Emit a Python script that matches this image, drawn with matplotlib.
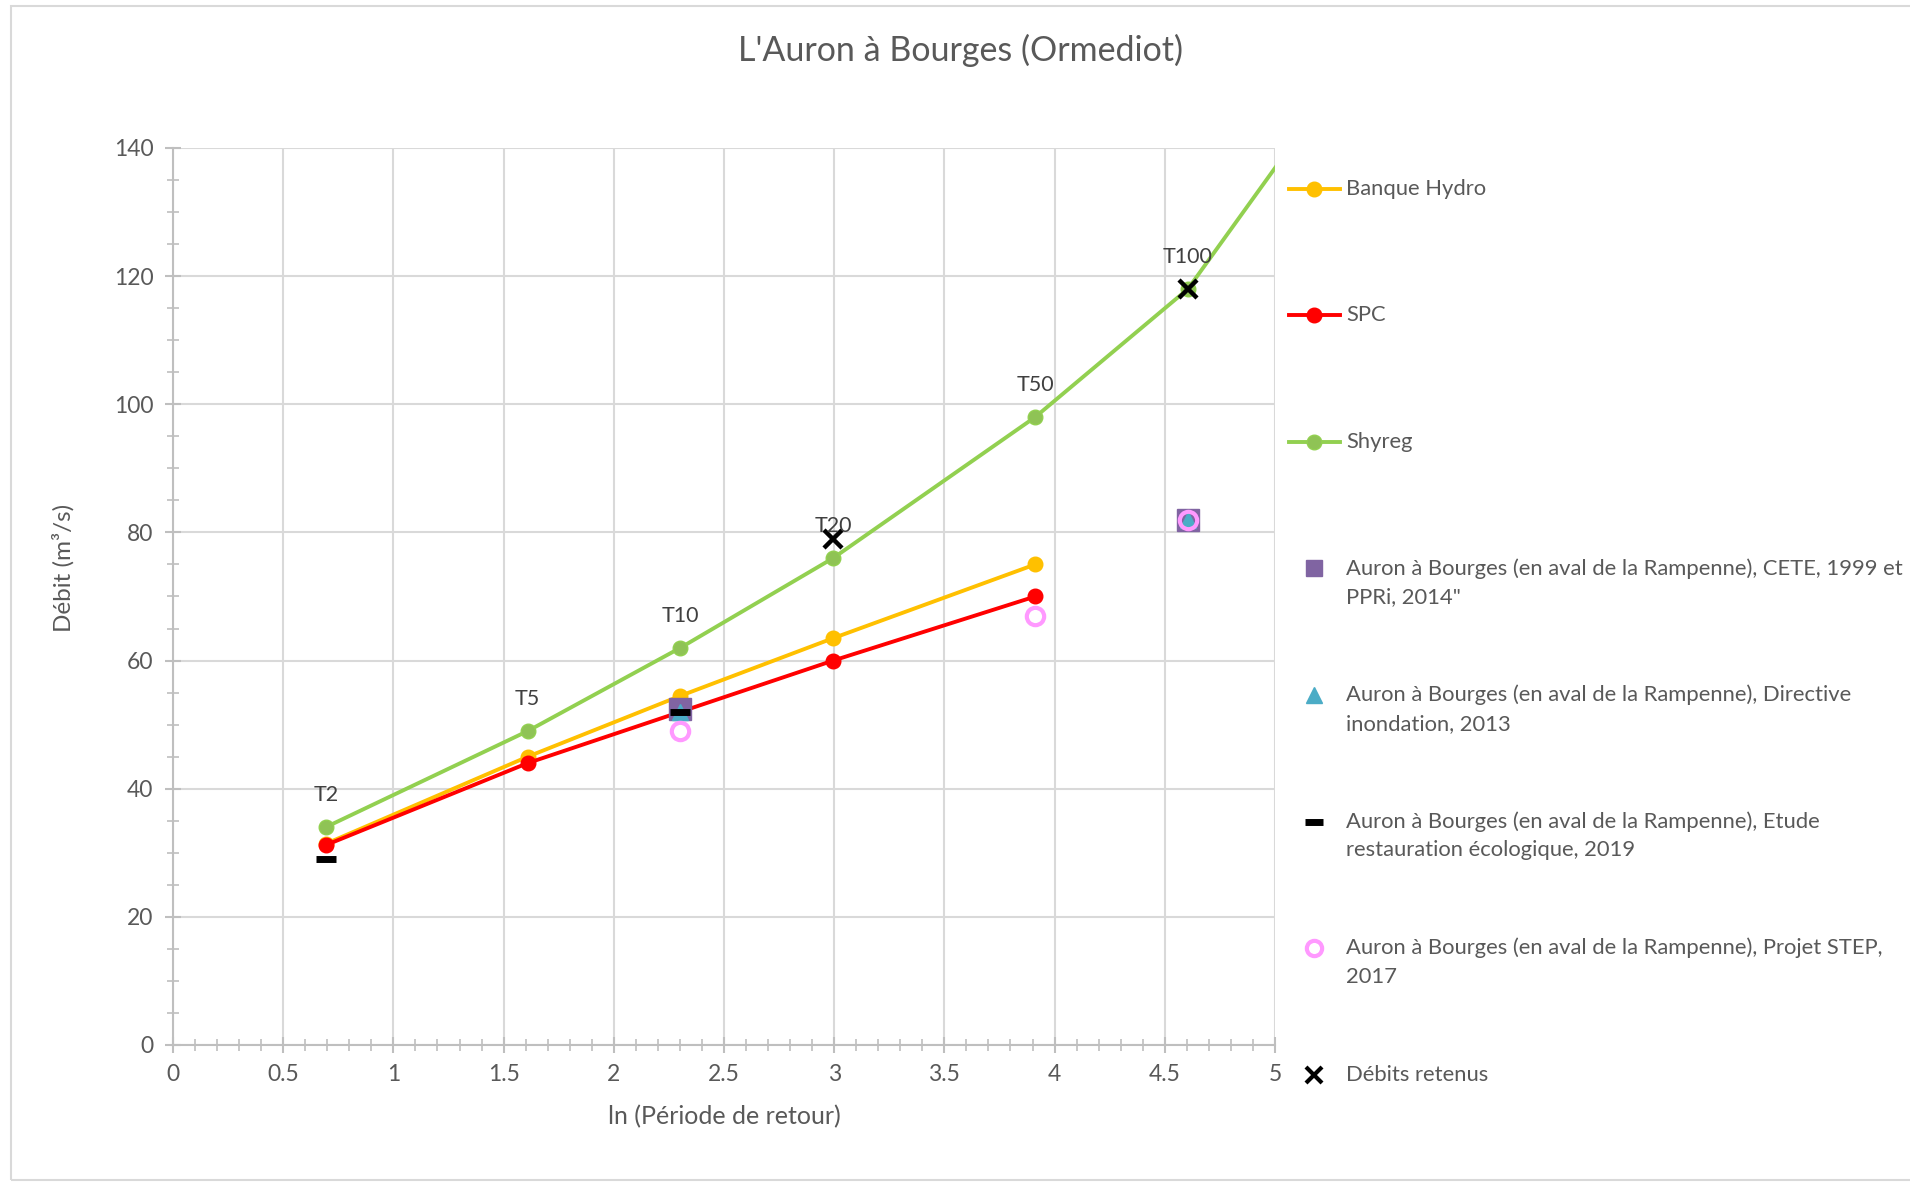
import numpy as np
import matplotlib.pyplot as plt
from matplotlib.lines import Line2D
from matplotlib.patches import Rectangle
from matplotlib.ticker import MultipleLocator, FuncFormatter

plt.rcParams['font.family'] = ['Lato', 'DejaVu Sans']

# périodes de retour et ln(T)
periodes = [2, 5, 10, 20, 50, 100, 1000]
etiquettes = ['T2', 'T5', 'T10', 'T20', 'T50', 'T100']
ln_t = np.log(periodes)

banque_hydro = [31.4, 45, 54.5, 63.5, 75]
spc = [31.2, 44, 52, 60, 70]
shyreg = [34, 49, 62, 76, 98, 118, 228]

# autres études (x = ln T)
cete_x = [np.log(10), np.log(100)]
cete_y = [52.5, 82]
di_x = [np.log(10), np.log(100)]
di_y = [52, 82]
etude_x = [np.log(2), np.log(10)]
etude_y = [29, 52]
step_x = [np.log(10), np.log(50), np.log(100)]
step_y = [49, 67, 82]
retenus_x = [np.log(20), np.log(100)]
retenus_y = [79, 118]

gris_texte = '#595959'
gris_grille = '#D9D9D9'
gris_axe = '#BFBFBF'

fig = plt.figure(figsize=(19.1, 11.84), dpi=100)
ax = fig.add_axes([0.0906, 0.1174, 0.5769, 0.7576])

ax.plot(ln_t[:5], banque_hydro, color='#FFC000', lw=2.8, marker='o', ms=10.5, zorder=3)
ax.plot(ln_t[:5], spc, color='#FF0000', lw=2.8, marker='o', ms=10.5, zorder=4)
ax.plot(ln_t, shyreg, color='#92D050', lw=2.8, marker='o', ms=10.5,
        markerfacecolor='#8FC355', markeredgecolor='#92D050', zorder=3)

ax.plot(cete_x, cete_y, ls='none', marker='s', ms=16, color='#8064A2', zorder=5)
ax.plot(di_x, di_y, ls='none', marker='^', ms=11, color='#4BACC6', zorder=6)
ax.plot(etude_x, etude_y, ls='none', marker='_', ms=14, mew=5, color='black', zorder=7)
ax.plot(step_x, step_y, ls='none', marker='o', ms=12.5, mfc='none', mew=3,
        mec='#FF99FF', zorder=8)
ax.plot(retenus_x, retenus_y, ls='none', marker='x', ms=13, mew=3.2, color='black', zorder=9)

for x, y, t in zip(ln_t, shyreg, etiquettes):
    ax.annotate(t, (x, y), xytext=(0, 16), textcoords='offset points',
                ha='center', va='bottom', fontsize=15.5, color='#404040', zorder=10)

ax.set_xlim(0, 5)
ax.set_ylim(0, 140)
ax.xaxis.set_major_locator(MultipleLocator(0.5))
ax.xaxis.set_minor_locator(MultipleLocator(0.1))
ax.yaxis.set_major_locator(MultipleLocator(20))
ax.yaxis.set_minor_locator(MultipleLocator(5))
ax.xaxis.set_major_formatter(FuncFormatter(lambda v, p: '%g' % v))

ax.grid(True, which='major', color=gris_grille, lw=1.5, zorder=0)
ax.set_axisbelow(True)
for s in ['top', 'right']:
    ax.spines[s].set_visible(False)
for s in ['left', 'bottom']:
    ax.spines[s].set_color(gris_axe)
    ax.spines[s].set_linewidth(1.5)

ax.tick_params(which='major', direction='inout', length=12, width=1.5, color=gris_axe,
               labelsize=16.5, labelcolor=gris_texte, pad=8)
ax.tick_params(which='minor', direction='inout', length=8, width=1.2, color=gris_axe)

ax.set_xlabel('ln (Période de retour)', fontsize=18, color=gris_texte, labelpad=14)
fig.text(0.033, 0.52, 'Débit (m³/s)', rotation=90, ha='center', va='center',
         fontsize=17.5, color=gris_texte)

fig.text(0.503, 0.957, "L'Auron à Bourges (Ormediot)", ha='center', va='center',
         fontsize=24.5, color=gris_texte)

# légende à droite
legende = [
    (dict(color='#FFC000', lw=2.8, marker='o', ms=10.5), 'Banque Hydro'),
    (dict(color='#FF0000', lw=2.8, marker='o', ms=10.5), 'SPC'),
    (dict(color='#92D050', lw=2.8, marker='o', ms=10.5, mfc='#8FC355'), 'Shyreg'),
    (dict(ls='none', marker='s', ms=12, color='#8064A2'),
     'Auron à Bourges (en aval de la Rampenne), CETE, 1999 et\nPPRi, 2014"'),
    (dict(ls='none', marker='^', ms=11, color='#4BACC6'),
     'Auron à Bourges (en aval de la Rampenne), Directive\ninondation, 2013'),
    (dict(ls='none', marker='_', ms=13, mew=5, color='black'),
     'Auron à Bourges (en aval de la Rampenne), Etude\nrestauration écologique, 2019'),
    (dict(ls='none', marker='o', ms=11, mfc='none', mew=3, mec='#FF99FF'),
     'Auron à Bourges (en aval de la Rampenne), Projet STEP,\n2017'),
    (dict(ls='none', marker='x', ms=11, mew=3, color='black'), 'Débits retenus'),
]
y0 = 188.5
pas = 126.6
for i, (style, texte) in enumerate(legende):
    yp = 1 - (y0 + i * pas) / 1184
    if style.get('ls') == 'none':
        fig.add_artist(Line2D([1314 / 1910], [yp], transform=fig.transFigure, **style))
    else:
        fig.add_artist(Line2D([1289 / 1910, 1340 / 1910], [yp, yp], transform=fig.transFigure,
                              markevery=[], **style))
        fig.add_artist(Line2D([1314 / 1910], [yp], transform=fig.transFigure, **style))
    for j, ligne in enumerate(texte.split('\n')):
        fig.text(1346 / 1910, yp - j * 29 / 1184, ligne, ha='left', va='center',
                 fontsize=15.8, color=gris_texte)

fig.add_artist(Rectangle((0.006, 0.003), 1.2, 0.992, transform=fig.transFigure,
                         fill=False, edgecolor=gris_grille, lw=1.5))

fig.savefig('out.png', dpi=100)
